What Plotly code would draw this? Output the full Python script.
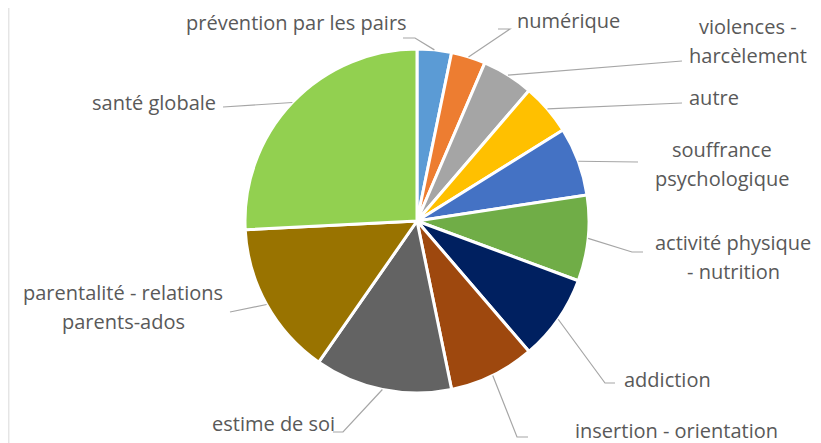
import math
import plotly.graph_objects as go

# page body has an 8px margin, so the figure is drawn at (8, 8)
OFF = 8
W, H = 821 - OFF, 443 - OFF

categories = ["prévention par les pairs", "numérique", "violences -<br>harcèlement", "autre",
              "souffrance<br>psychologique", "activité physique<br>- nutrition", "addiction",
              "insertion - orientation", "estime de soi", "parentalité - relations<br>parents-ados",
              "santé globale"]
values = [2, 2, 3, 3, 4, 5, 5, 5, 8, 9, 16]
colors = ["#5B9BD5", "#ED7D31", "#A5A5A5", "#FFC000", "#4472C4", "#70AD47", "#002060",
          "#9E480E", "#636363", "#997300", "#92D050"]

# layout (screen pixels)
CX, CY, R = 417, 221, 172
LINE_GAP = 29
label_pos = [(296, 22), (568, 20), (748, 41), (714, 97), (722, 164), (733, 257), (667, 379),
             (676, 430), (273, 423), (123, 307), (154, 102)]
# leader line points after the slice anchor (elbow, end), pixels
leader = [[(415, 38), (403, 38)], [(510, 29), (498, 29)], [(682, 61)], [(682, 103)],
          [(638, 162)], [(632, 252), (643, 252)], [(605, 383), (615, 383)],
          [(517, 437), (528, 437)], [(343, 432), (333, 432)], [(230, 312)], [(223, 107)]]


def px(x):
    return (x - OFF) / W


def py(y):
    return 1 - (y - OFF) / H


fig = go.Figure(go.Pie(
    labels=categories, values=values, sort=False, direction="clockwise", rotation=0,
    marker=dict(colors=colors, line=dict(color="white", width=3)),
    textinfo="none", hoverinfo="label+value+percent", showlegend=False,
    domain=dict(x=[px(CX - R), px(CX + R)], y=[py(CY + R), py(CY - R)]),
))

total = sum(values)
cum = 0
shapes = []
annotations = []
for i, v in enumerate(values):
    mid = (cum + v / 2) / total * 2 * math.pi
    cum += v
    ax = CX + R * math.sin(mid)
    ay = CY - R * math.cos(mid)
    pts = [(ax, ay)] + leader[i]
    path = "M " + " L ".join(f"{px(x):.5f},{py(y):.5f}" for x, y in pts)
    shapes.append(dict(type="path", path=path, xref="paper", yref="paper",
                       line=dict(color="#A6A6A6", width=1.2)))
    lx, ly = label_pos[i]
    lines = categories[i].split("<br>")
    n = len(lines)
    for k, line in enumerate(lines):
        yk = ly + (k - (n - 1) / 2) * LINE_GAP
        annotations.append(dict(text=line, x=px(lx), y=py(yk), xref="paper", yref="paper",
                                xanchor="center", yanchor="middle", showarrow=False,
                                font=dict(family="Open Sans", size=20, color="#595959")))

shapes.append(dict(type="line", xref="paper", yref="paper", x0=0.001, x1=0.001, y0=0, y1=1,
                   line=dict(color="#D9D9D9", width=1)))

fig.update_layout(width=W, height=H, margin=dict(l=0, r=0, t=0, b=0),
                  paper_bgcolor="white", plot_bgcolor="white",
                  shapes=shapes, annotations=annotations)
fig.write_html("out.html")
